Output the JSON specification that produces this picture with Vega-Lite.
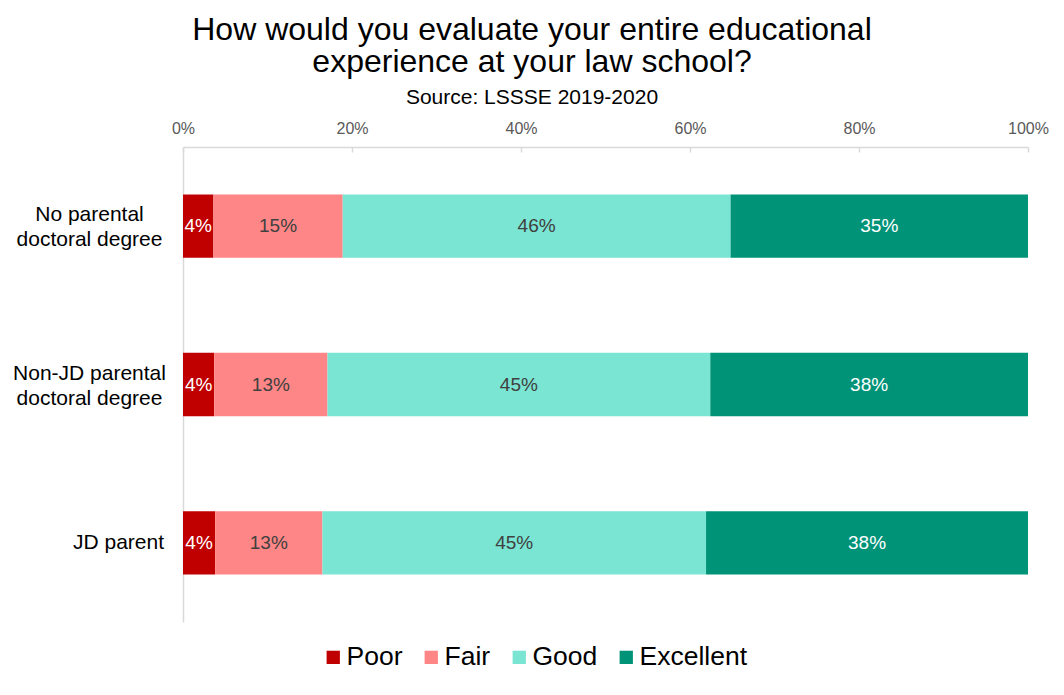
{
  "$schema": "https://vega.github.io/schema/vega-lite/v6.json",
  "width": 845,
  "height": 475,
  "autosize": {"type": "none"},
  "padding": {"left": 183, "top": 147, "right": 36, "bottom": 73},
  "background": "white",
  "config": {
    "view": {"stroke": null},
    "font": "Liberation Sans"
  },
  "title": {
    "text": ["How would you evaluate your entire educational", "experience at your law school?"],
    "subtitle": "Source: LSSSE 2019-2020",
    "anchor": "middle",
    "frame": "group",
    "dx": -73.5,
    "offset": 11,
    "font": "Liberation Sans",
    "fontSize": 32,
    "fontWeight": "normal",
    "color": "#000000",
    "lineHeight": 32,
    "subtitleFont": "Liberation Sans",
    "subtitleFontSize": 21,
    "subtitleColor": "#000000",
    "subtitlePadding": 8
  },
  "data": {
    "values": [
      {"group": "No parental doctoral degree", "rating": "Poor", "level": 1, "share": 0.036},
      {"group": "No parental doctoral degree", "rating": "Fair", "level": 2, "share": 0.153},
      {"group": "No parental doctoral degree", "rating": "Good", "level": 3, "share": 0.459},
      {"group": "No parental doctoral degree", "rating": "Excellent", "level": 4, "share": 0.352},
      {"group": "Non-JD parental doctoral degree", "rating": "Poor", "level": 1, "share": 0.037},
      {"group": "Non-JD parental doctoral degree", "rating": "Fair", "level": 2, "share": 0.134},
      {"group": "Non-JD parental doctoral degree", "rating": "Good", "level": 3, "share": 0.453},
      {"group": "Non-JD parental doctoral degree", "rating": "Excellent", "level": 4, "share": 0.376},
      {"group": "JD parent", "rating": "Poor", "level": 1, "share": 0.038},
      {"group": "JD parent", "rating": "Fair", "level": 2, "share": 0.127},
      {"group": "JD parent", "rating": "Good", "level": 3, "share": 0.454},
      {"group": "JD parent", "rating": "Excellent", "level": 4, "share": 0.381}
    ]
  },
  "encoding": {
    "y": {
      "field": "group",
      "type": "nominal",
      "sort": ["No parental doctoral degree", "Non-JD parental doctoral degree", "JD parent"],
      "scale": {"paddingInner": 0.6, "paddingOuter": 0.3},
      "axis": {
        "title": null,
        "ticks": false,
        "tickSize": 0,
        "domainColor": "#d9d9d9",
        "domainWidth": 1.5,
        "labelFont": "Liberation Sans",
        "labelFontSize": 21,
        "labelColor": "#000000",
        "labelLineHeight": 25,
        "labelAlign": "center",
        "labelBaseline": "middle",
        "labelPadding": {"condition": {"test": "datum.value == 'JD parent'", "value": 65}, "value": 94},
        "labelOffset": {"condition": {"test": "datum.value == 'JD parent'", "value": 0}, "value": -11},
        "labelLimit": 300,
        "labelExpr": "datum.value == 'No parental doctoral degree' ? ['No parental', 'doctoral degree'] : datum.value == 'Non-JD parental doctoral degree' ? ['Non-JD parental', 'doctoral degree'] : datum.value"
      }
    },
    "order": {"field": "level", "type": "quantitative", "sort": "ascending"}
  },
  "layer": [
    {
      "mark": {"type": "bar"},
      "encoding": {
        "x": {
          "field": "share",
          "type": "quantitative",
          "stack": "zero",
          "scale": {"domain": [0, 1], "nice": false},
          "axis": {
            "orient": "top",
            "title": null,
            "values": [0, 0.2, 0.4, 0.6, 0.8, 1],
            "format": ".0%",
            "grid": false,
            "labelFlush": false,
            "labelOverlap": false,
            "domainColor": "#d9d9d9",
            "domainWidth": 1.5,
            "tickColor": "#d9d9d9",
            "tickWidth": 1.5,
            "tickSize": -5,
            "labelFont": "Liberation Sans",
            "labelFontSize": 16,
            "labelColor": "#595959",
            "labelPadding": 16
          }
        },
        "color": {
          "field": "rating",
          "type": "nominal",
          "sort": ["Poor", "Fair", "Good", "Excellent"],
          "scale": {
            "domain": ["Poor", "Fair", "Good", "Excellent"],
            "range": ["#C00000", "#FF8686", "#7AE5D3", "#009378"]
          },
          "legend": {
            "title": null,
            "orient": "none",
            "direction": "horizontal",
            "legendX": 137,
            "legendY": 497,
            "padding": 0,
            "symbolType": "square",
            "symbolSize": 177,
            "symbolStrokeWidth": 0,
            "symbolOpacity": 1,
            "labelFont": "Liberation Sans",
            "labelFontSize": 26.5,
            "labelColor": "#000000",
            "labelOffset": 0,
            "columnPadding": 15,
            "labelLimit": 300
          }
        }
      }
    },
    {
      "mark": {"type": "text", "font": "Liberation Sans", "fontSize": 19, "baseline": "middle", "align": "center"},
      "encoding": {
        "x": {"field": "share", "type": "quantitative", "stack": "zero", "bandPosition": 0.5},
        "text": {"field": "share", "type": "quantitative", "format": ".0%"},
        "color": {
          "field": "rating",
          "type": "nominal",
          "sort": ["Poor", "Fair", "Good", "Excellent"],
          "scale": {
            "domain": ["Poor", "Fair", "Good", "Excellent"],
            "range": ["#FFFFFF", "#404040", "#404040", "#FFFFFF"]
          },
          "legend": null
        }
      }
    }
  ],
  "resolve": {"scale": {"color": "independent"}}
}
